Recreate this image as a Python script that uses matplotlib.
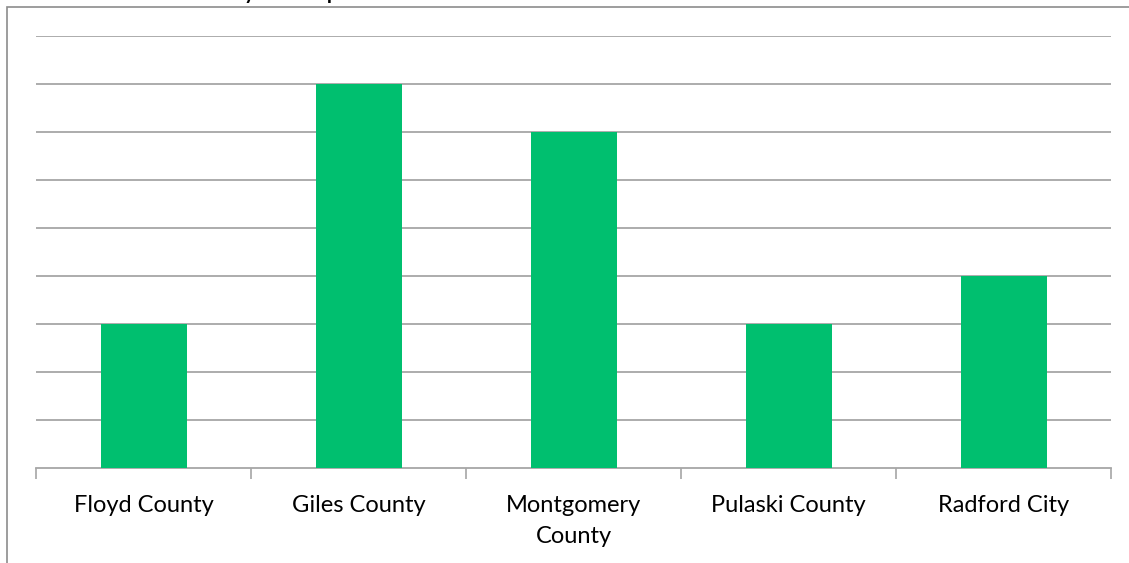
import matplotlib.pyplot as plt
from matplotlib.patches import Rectangle

# data
counties = ["Floyd County", "Giles County", "Montgomery\nCounty", "Pulaski County", "Radford City"]
counts = [3, 8, 7, 3, 4]

bar_color = "#00BF6F"
grid_color = "#A6A6A6"

plt.rcParams['font.family'] = ['Lato', 'DejaVu Sans']

fig = plt.figure(figsize=(11.29, 5.63), dpi=100)
W, H = 1129, 563

# chart frame (only left and top edges fall inside the figure)
fig.add_artist(Rectangle((7 / W, -0.1), 1.2, (H - 7) / H + 0.1, transform=fig.transFigure,
                         fill=False, edgecolor="#8C8C8C", linewidth=1.2))

# title sits above the visible area, only its descenders show
fig.text(234 / W, 1 + 2 / H, "Community Groups", fontsize=20, ha="center", va="baseline",
         color="black")

ax = fig.add_axes([36 / W, (H - 468) / H, 1075 / W, 432 / H])
x = range(len(counties))
ax.bar(x, counts, width=0.4, color=bar_color, zorder=3)

ax.set_xlim(-0.5, len(counties) - 0.5)
ax.set_ylim(0, 9)
ax.set_yticks(range(1, 10))
ax.yaxis.grid(True, color=grid_color, linewidth=1.3, zorder=0)
ax.tick_params(axis="y", left=False, labelleft=False)

# category boundaries as tick marks
ax.set_xticks([i - 0.5 for i in range(len(counties) + 1)])
ax.set_xticklabels([])
ax.tick_params(axis="x", direction="out", length=8, color=grid_color, width=1.2)
for i, name in enumerate(counties):
    ax.text(i, -0.56, name, ha="center", va="top", fontsize=17, linespacing=1.6,
            transform=ax.transData)

for side in ["top", "right", "left"]:
    ax.spines[side].set_visible(False)
ax.spines["bottom"].set_color(grid_color)
ax.spines["bottom"].set_linewidth(1.3)

fig.savefig("out.png", dpi=100)
